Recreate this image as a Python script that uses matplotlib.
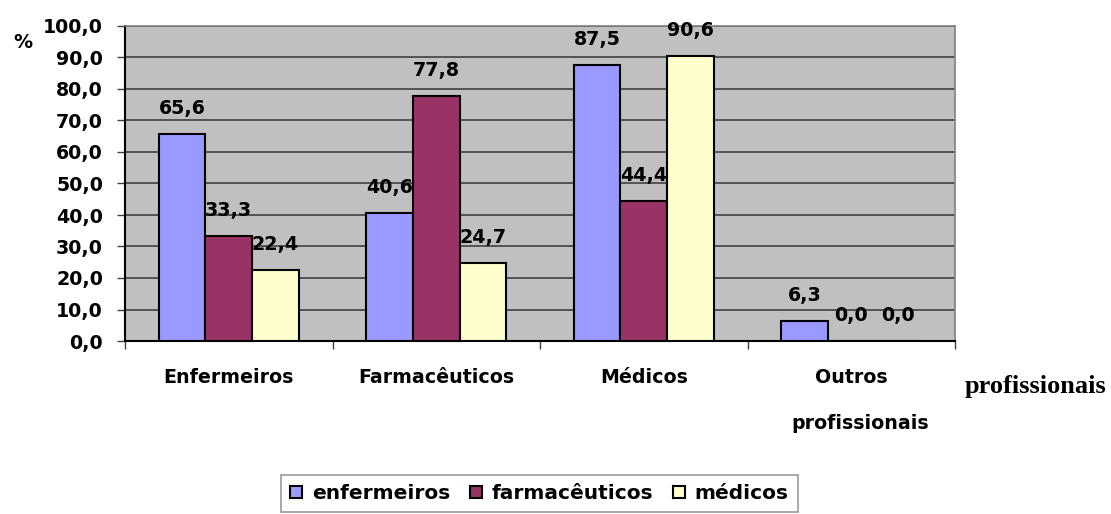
import numpy as np
import matplotlib
matplotlib.use("Agg")
import matplotlib.pyplot as plt
from matplotlib.patches import Patch

# categorias e séries (%)
categorias = ["Enfermeiros", "Farmacêuticos", "Médicos", "Outros"]
series = ["enfermeiros", "farmacêuticos", "médicos"]
enfermeiros = [65.6, 40.6, 87.5, 6.3]
farmaceuticos = [33.3, 77.8, 44.4, 0.0]
medicos = [22.4, 24.7, 90.6, 0.0]
valores = [enfermeiros, farmaceuticos, medicos]
cores = ["#9999FF", "#993366", "#FFFFCC"]
yticks = [0, 10, 20, 30, 40, 50, 60, 70, 80, 90, 100]

fonte = "DejaVu Sans"
tam = 13.7

fig = plt.figure(figsize=(11.11, 5.14), dpi=100)
ax = fig.add_axes([125 / 1111, 1 - 341 / 514, 830 / 1111, 315 / 514])
ax.set_facecolor("#C0C0C0")

largura = 0.225
x = np.arange(len(categorias)) + 0.5
for i, (serie, vals, cor) in enumerate(zip(series, valores, cores)):
    pos = x + (i - 1) * largura
    ax.bar(pos, vals, width=largura, color=cor, edgecolor="black",
           linewidth=1.5, zorder=3, label=serie)
    for px, v in zip(pos, vals):
        ax.annotate(f"{v:.1f}".replace(".", ","), (px, v), xytext=(0, 14.4),
                    textcoords="offset points", ha="center", va="baseline",
                    fontsize=tam, fontweight="bold", family=fonte, zorder=4)

ax.set_xlim(0, 4)
ax.set_ylim(0, 100)
ax.set_yticks(yticks)
ax.set_yticklabels([f"{t:.1f}".replace(".", ",") for t in yticks],
                   fontsize=tam, fontweight="bold", family=fonte)
ax.yaxis.grid(True, color="#404040", linewidth=1.2, zorder=1)
ax.set_axisbelow(True)

# marcas nos limites das categorias, rótulos no centro
ax.set_xticks([0, 1, 2, 3, 4])
ax.set_xticklabels([])
ax.set_xticks(x, minor=True)
ax.set_xticklabels(categorias, minor=True, fontsize=tam, fontweight="bold",
                   family=fonte)
ax.tick_params(axis="x", which="minor", length=0, pad=19.5)
ax.tick_params(axis="x", which="major", length=5.8, width=1, color="#404040")
ax.tick_params(axis="y", length=5.8, width=1, pad=10, color="#404040")

for lado in ("top", "right"):
    ax.spines[lado].set_color("#808080")
    ax.spines[lado].set_linewidth(1.2)
for lado in ("left", "bottom"):
    ax.spines[lado].set_color("black")
    ax.spines[lado].set_linewidth(1.5)

# segunda linha do rótulo "Outros"
ax.text(3.545, -26.2, "profissionais", transform=ax.transData, ha="center",
        va="center", fontsize=tam, fontweight="bold", family=fonte,
        clip_on=False)

fig.text(23 / 1111, 1 - 42 / 514, "%", ha="center", va="center",
         fontsize=tam, fontweight="bold", family=fonte)
fig.text(1036 / 1111, 1 - 387 / 514, "profissionais", ha="center",
         va="center", fontsize=19, fontweight="bold", family="Liberation Serif")

alcas = [Patch(facecolor=c, edgecolor="black", linewidth=1.5) for c in cores]
leg = fig.legend(alcas, series, loc="upper left",
                 bbox_to_anchor=(281 / 1111, 1 - 475 / 514), ncol=3,
                 frameon=True, fancybox=False, shadow=False,
                 prop={"family": fonte, "weight": "bold", "size": 14.5},
                 handlelength=0.6, handleheight=0.6, handletextpad=0.5,
                 columnspacing=0.95, borderpad=0.45, borderaxespad=0)
leg.get_frame().set_edgecolor("#808080")
leg.get_frame().set_linewidth(1.2)

fig.savefig("out.png", dpi=100)
